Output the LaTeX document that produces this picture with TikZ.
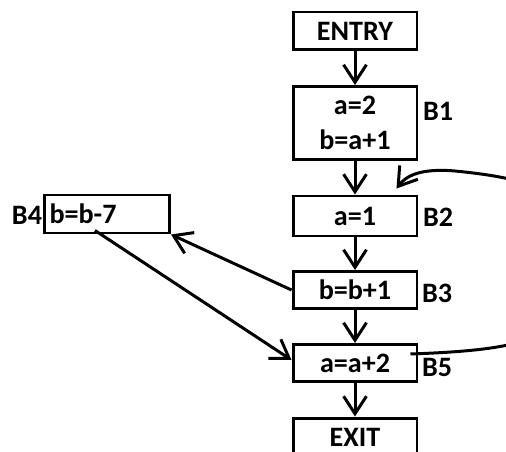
\documentclass[tikz,border=0pt]{standalone}
\usepackage{fontspec}
\setmainfont{Carlito}
\usetikzlibrary{arrows.meta,calc}
\begin{document}
\begin{tikzpicture}[x=0.02cm,y=-0.02cm,line width=1.7pt,>={Straight Barb[length=10pt,width=13pt,line width=1.7pt]}]
\tikzstyle{every node}=[font=\fontsize{16}{20}\selectfont\bfseries]
\tikzstyle{block}=[draw, rectangle, inner sep=0pt, minimum width=2.48cm, minimum height=0.76cm, align=center]
\tikzstyle{tag}=[inner sep=0pt]

\useasboundingbox (0,0) rectangle (506,452);

\node[block] (ENTRY) at (355, 31) {ENTRY};
\node[block, minimum height=1.46cm] (B1) at (355,123) {a=2\\b=a+1};
\node[block, minimum height=0.8cm] (B2) at (355,216) {a=1};
\node[block, minimum height=0.74cm] (B3) at (355,290) {b=b+1};
\node[block, minimum height=0.74cm] (B5) at (355,363) {a=a+2};
\node[block] (EXIT) at (355,437) {EXIT};
\node[block, minimum width=2.5cm, text width=2.3cm, inner xsep=0.1cm, align=left] (B4) at (107,214) {b=b-7};

\node[tag] (L1) at (438,111) {B1};
\node[tag] (L2) at (438,217) {B2};
\node[tag] (L3) at (437,293) {B3};
\node[tag] (L5) at (437,367) {B5};
\node[tag] (L4) at ( 27,215) {B4};

\draw[->] (ENTRY) -- (B1);
\draw[->] (B1) -- (B2);
\draw[->] (B2) -- (B3);
\draw[->] (B3) -- (B5);
\draw[->] (B5) -- (EXIT);
\draw[->] (B3.west) -- (B4.south east);
\draw[->] ($(B4.south)+(-12,-4)$) -- ($(B5.west)+(0,-3)$);
\draw[->] ($(B5.east)+(-8,-9)$) .. controls (520,350) and (585,340) .. (585,262)
          .. controls (585,190) and (525,178) .. (455,171)
          .. controls (420,168) and (406,176) .. ($(B2.north east)+(-22,-6)$);
\end{tikzpicture}
\end{document}
